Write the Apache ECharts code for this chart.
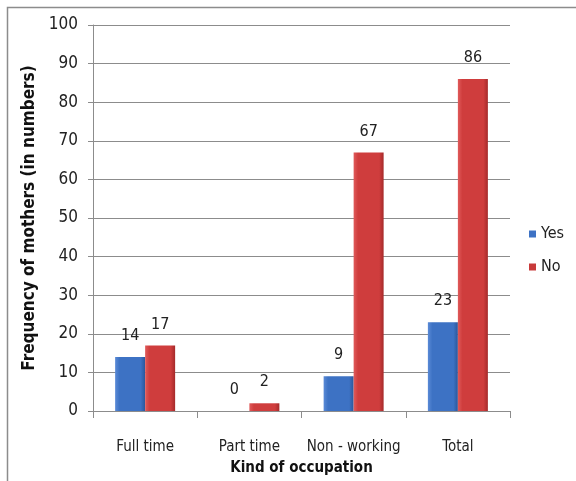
<!DOCTYPE html>
<html><head><meta charset="utf-8">
<script src="https://cdn.jsdelivr.net/npm/echarts@6/dist/echarts.min.js"></script>
<style>html,body{margin:0;padding:0;background:#fff}#c{width:576px;height:481px}</style>
</head><body><div id="c"></div>
<script>
const categories = ['Full time', 'Part time', 'Non - working', 'Total'];
const yesValues = [14, 0, 9, 23];
const noValues = [17, 2, 67, 86];
const yTicks = [0, 10, 20, 30, 40, 50, 60, 70, 80, 90, 100];

const FONT = '"DejaVu Sans Condensed", "Liberation Sans Narrow", sans-serif';
function grad(a, b, c) {
  return new echarts.graphic.LinearGradient(0, 0, 1, 0, [
    {offset: 0, color: a}, {offset: 0.15, color: b}, {offset: 0.85, color: b}, {offset: 1, color: c}
  ]);
}
const chart = echarts.init(document.getElementById('c'));
chart.setOption({
  animation: false,
  graphic: [{type: 'rect', shape: {x: 7.5, y: 7.5, width: 620, height: 520}, style: {fill: 'none', stroke: '#8c8c8c', lineWidth: 1.5}}],
  grid: {left: 93, right: 66, top: 25, bottom: 64},
  legend: {
    orient: 'vertical', left: 524, top: 221, itemGap: 17, itemWidth: 7, itemHeight: 7,
    icon: 'rect',
    textStyle: {fontFamily: FONT, fontSize: 16, color: '#222'},
    data: [{name: 'Yes', itemStyle: {color: '#3d72c4'}}, {name: 'No', itemStyle: {color: '#c83a3a'}}]
  },
  xAxis: {
    type: 'category', data: categories,
    name: 'Kind of occupation', nameLocation: 'middle', nameGap: 50,
    nameTextStyle: {fontFamily: FONT, fontSize: 15, fontWeight: 'bold', color: '#111'},
    axisLine: {lineStyle: {color: '#8c8c8c'}},
    axisTick: {show: true, length: 7, lineStyle: {color: '#8c8c8c'}},
    axisLabel: {interval: 0, fontFamily: FONT, fontSize: 15, color: '#222', margin: 29}
  },
  yAxis: {
    type: 'value', min: 0, max: 100, interval: 10,
    name: 'Frequency of mothers (in numbers)', nameLocation: 'middle', nameGap: 50,
    nameTextStyle: {fontFamily: FONT, fontSize: 17, fontWeight: 'bold', color: '#111'},
    axisLine: {show: true, lineStyle: {color: '#8c8c8c'}},
    axisTick: {show: true, length: 5, lineStyle: {color: '#8c8c8c'}},
    axisLabel: {fontFamily: FONT, fontSize: 17, color: '#222', margin: 15,
      formatter: v => yTicks.includes(v) ? String(v) : ''},
    splitLine: {lineStyle: {color: '#8c8c8c'}}
  },
  series: [
    {name: 'Yes', type: 'bar', data: yesValues, barWidth: 30, barGap: '0%',
     itemStyle: {color: grad('#5a8ad6', '#3d72c4', '#2b579a')},
     label: {show: true, position: 'top', distance: 13, fontFamily: FONT, fontSize: 16, color: '#222'}},
    {name: 'No', type: 'bar', data: noValues, barWidth: 30,
     itemStyle: {color: grad('#e05a5a', '#cf3d3d', '#a52a2a')},
     label: {show: true, position: 'top', distance: 13, fontFamily: FONT, fontSize: 16, color: '#222'}}
  ]
});
</script></body></html>
